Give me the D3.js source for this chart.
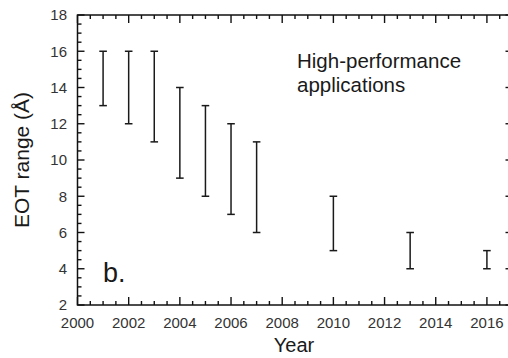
<!DOCTYPE html>
<html><head><meta charset="utf-8">
<script src="https://cdn.jsdelivr.net/npm/d3@7"></script>
<style>
body{margin:0;background:#fff;}
svg{display:block;}
text{font-family:"Liberation Sans",Arial,sans-serif;}
</style></head>
<body><svg id="c" width="508" height="358"></svg>
<script>
const years = [2001, 2002, 2003, 2004, 2005, 2006, 2007, 2010, 2013, 2016];
const eotLow = [13, 12, 11, 9, 8, 7, 6, 5, 4, 4];
const eotHigh = [16, 16, 16, 14, 13, 12, 11, 8, 6, 5];
const xTicks = [2000, 2002, 2004, 2006, 2008, 2010, 2012, 2014, 2016];
const yTicks = [2, 4, 6, 8, 10, 12, 14, 16, 18];
const titleLines = ["High-performance", "applications"];
const panelLabel = "b.";
const xLabel = "Year";
const yLabel = "EOT range (Å)";

const svg = d3.select("#c");
const L = 77.5, R = 512.5, T = 15, B = 305;
const x = d3.scaleLinear().domain([2000, 2017]).range([L, R]);
const y = d3.scaleLinear().domain([2, 18]).range([B, T]);

const minorX = d3.range(2000, 2017.01, 0.5).filter(v => !xTicks.includes(v));
const minorY = d3.range(2, 18.01, 0.5).filter(v => !yTicks.includes(v));

// frame
svg.append("rect").attr("x", L).attr("y", T).attr("width", R - L).attr("height", B - T)
  .attr("fill", "none").attr("stroke", "#111").attr("stroke-width", 1.5);

// ticks: inward on all four sides
const ticks = svg.append("g").attr("stroke", "#111").attr("stroke-width", 1.4);
function xs(vals, len){
  vals.forEach(v => {
    ticks.append("line").attr("x1", x(v)).attr("x2", x(v)).attr("y1", B).attr("y2", B - len);
    ticks.append("line").attr("x1", x(v)).attr("x2", x(v)).attr("y1", T).attr("y2", T + len);
  });
}
function ys(vals, len){
  vals.forEach(v => {
    ticks.append("line").attr("x1", L).attr("x2", L + len).attr("y1", y(v)).attr("y2", y(v));
    ticks.append("line").attr("x1", R - len).attr("x2", R).attr("y1", y(v)).attr("y2", y(v));
  });
}
xs(minorX, 4); xs(xTicks, 8);
ys(minorY, 4); ys(yTicks, 7);

// tick labels
svg.append("g").selectAll("text").data(xTicks).enter().append("text")
  .attr("x", d => x(d)).attr("y", 328).attr("text-anchor", "middle")
  .attr("font-size", 15).attr("fill", "#333").text(d => d3.format("d")(d));
svg.append("g").selectAll("text").data(yTicks).enter().append("text")
  .attr("x", 67).attr("y", d => y(d) + 5.4).attr("text-anchor", "end")
  .attr("font-size", 15).attr("fill", "#333").text(d => d3.format("d")(d));

// error bars
const cap = 3.8;
const bars = svg.append("g").attr("stroke", "#1a1a1a").attr("stroke-width", 1.5).attr("fill", "none");
years.forEach((yr, i) => {
  const cx = x(yr), lo = y(eotLow[i]), hi = y(eotHigh[i]);
  bars.append("line").attr("x1", cx).attr("x2", cx).attr("y1", lo).attr("y2", hi);
  bars.append("line").attr("x1", cx - cap).attr("x2", cx + cap).attr("y1", lo).attr("y2", lo);
  bars.append("line").attr("x1", cx - cap).attr("x2", cx + cap).attr("y1", hi).attr("y2", hi);
});

// annotation
const tt = svg.append("text").attr("x", 297).attr("y", 68).attr("font-size", 20.5).attr("fill", "#1a1a1a");
titleLines.forEach((s, i) => tt.append("tspan").attr("x", 297).attr("dy", i ? 23.5 : 0).text(s));

svg.append("text").attr("x", 103).attr("y", 282).attr("font-size", 27).attr("fill", "#1a1a1a")
  .attr("font-family", "DejaVu Sans, sans-serif").text(panelLabel);

// axis titles
svg.append("text").attr("x", 294).attr("y", 352).attr("text-anchor", "middle")
  .attr("font-size", 20).attr("fill", "#1a1a1a").text(xLabel);
svg.append("text").attr("transform", "translate(28.5,160) rotate(-90)").attr("text-anchor", "middle")
  .attr("font-size", 21).attr("fill", "#1a1a1a").text(yLabel);
</script></body></html>
